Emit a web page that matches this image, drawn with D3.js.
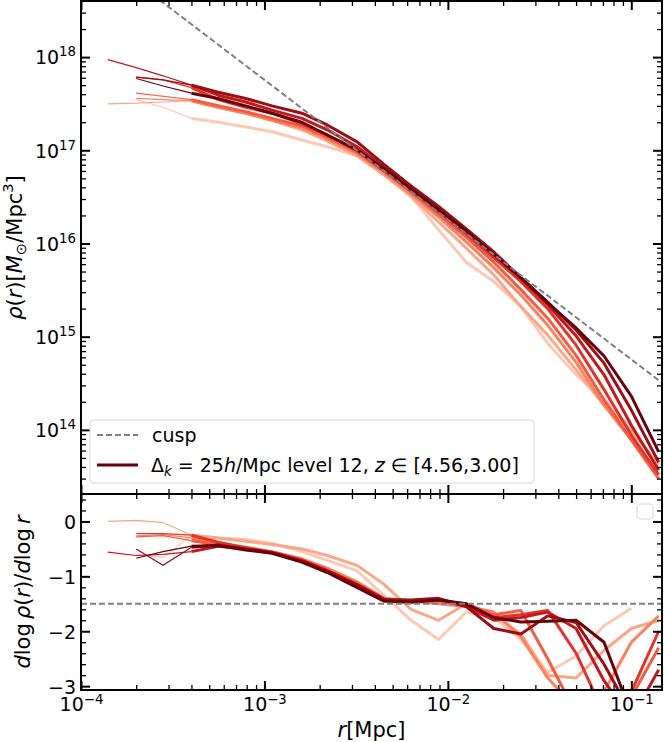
<!DOCTYPE html>
<html>
<head>
<meta charset="utf-8">
<script src="https://cdn.jsdelivr.net/npm/d3@7"></script>
<style>
  body { margin: 0; background: #fff; }
  svg { font-family: "DejaVu Sans", sans-serif; }
</style>
</head>
<body>
<svg id="chart" width="664" height="742"></svg>
<script>
// radial bins [Mpc]
var radii = [1.4e-4, 2.0e-4, 2.8e-4, 4.0e-4, 5.6e-4, 7.9e-4, 1.1e-3, 1.6e-3, 2.2e-3, 3.2e-3, 4.5e-3,
             6.3e-3, 8.9e-3, 1.26e-2, 1.78e-2, 2.5e-2, 3.5e-2, 5.0e-2, 7.1e-2, 0.1, 0.141];
var rResolved = 4.0e-4;   // inside this the profiles are drawn thin

// density profiles rho(r) [Msun/Mpc^3], z = 4.56 (rho0) ... z = 3.00 (rho7)
var rho0 = [null, 3.5e17, 2.9e17, 2.2e17, 2.0e17, 1.78e17, 1.58e17, 1.29e17, 1.09e17, 8.7e16, 6.6e16, 3.2e16, 1.4e16, 6.3e15, 3.9e15, 2.1e15, 8.5e14, 3.9e14, 2.1e14, 1.04e14, null];
var rho1 = [3.15e17, 3.2e17, 3.3e17, 3.4e17, 2.9e17, 2.5e17, 2.1e17, 1.66e17, 1.26e17, 8.7e16, 5.4e16, 3.2e16, 1.7e16, 8.9e15, 4.6e15, 2.1e15, 1.04e15, 4.4e14, 1.84e14, 9.9e13, 4.2e13];
var rho2 = [null, 3.6e17, 3.5e17, 3.4e17, 2.9e17, 2.5e17, 2.1e17, 1.74e17, 1.33e17, 9.2e16, 5.7e16, 3.4e16, 1.93e16, 1.04e16, 5.5e15, 2.8e15, 1.33e15, 5.3e14, 1.84e14, 7.8e13, 3.3e13];
var rho3 = [null, 4.1e17, 3.8e17, 3.5e17, 3.0e17, 2.6e17, 2.2e17, 1.83e17, 1.39e17, 9.6e16, 6.0e16, 3.6e16, 2.07e16, 1.17e16, 6.3e15, 3.2e15, 1.58e15, 6.3e14, 2.1e14, 7.8e13, 3.0e13];
var rho4 = [null, 6.1e17, 5.7e17, 4.7e17, 3.5e17, 2.9e17, 2.5e17, 1.92e17, 1.46e17, 9.9e16, 6.0e16, 3.65e16, 2.2e16, 1.26e16, 7.0e15, 3.9e15, 2.0e15, 8.1e14, 2.7e14, 8.8e13, 3.3e13];
var rho5 = [9.4e17, 7.7e17, 6.3e17, 5.0e17, 3.9e17, 3.3e17, 2.7e17, 2.2e17, 1.66e17, 1.09e17, 6.5e16, 3.85e16, 2.3e16, 1.36e16, 7.5e15, 4.2e15, 2.2e15, 1.02e15, 3.9e14, 1.12e14, 3.7e13];
var rho6 = [null, 6.1e17, 5.7e17, 5.0e17, 4.2e17, 3.6e17, 3.0e17, 2.5e17, 1.87e17, 1.23e17, 7.0e16, 4.15e16, 2.5e16, 1.43e16, 8.1e15, 4.3e15, 2.35e15, 1.18e15, 5.2e14, 1.63e14, 4.5e13];
var rho7 = [null, 5.9e17, 4.9e17, 4.1e17, 3.6e17, 3.0e17, 2.5e17, 2.0e17, 1.46e17, 1.01e17, 6.3e16, 3.85e16, 2.3e16, 1.36e16, 7.7e15, 4.3e15, 2.3e15, 1.24e15, 6.2e14, 2.3e14, 5.8e13];

// logarithmic slopes dlog rho / dlog r
var slope0 = [null, -0.6, -0.66, -0.25, -0.3, -0.33, -0.4, -0.55, -0.71, -0.9, -1.35, -1.8, -2.15, -1.65, -1.75, -2.15, -2.75, -2.45, -1.9, -1.58, null];
var slope1 = [0.0, 0.02, -0.02, -0.25, -0.3, -0.36, -0.42, -0.5, -0.62, -0.8, -1.15, -1.6, -1.8, -1.5, -1.7, -2.05, -2.8, -2.85, -2.35, -1.95, -1.8];
var slope2 = [null, -0.26, -0.24, -0.3, -0.4, -0.47, -0.55, -0.68, -0.85, -1.1, -1.4, -1.45, -1.5, -1.55, -1.65, -2.1, -2.85, -3.4, -3.1, -2.2, -1.72];
var slope3 = [null, -0.28, -0.26, -0.35, -0.42, -0.5, -0.56, -0.7, -0.88, -1.13, -1.42, -1.45, -1.45, -1.5, -1.7, -1.62, -2.5, -3.5, -3.6, -3.2, -2.3];
var slope4 = [null, -0.22, -0.22, -0.25, -0.38, -0.48, -0.56, -0.7, -0.9, -1.15, -1.42, -1.45, -1.42, -1.52, -1.75, -1.7, -1.62, -2.4, -3.5, -3.1, -2.0];
var slope5 = [-0.56, -0.62, -0.6, -0.55, -0.45, -0.5, -0.57, -0.73, -0.92, -1.2, -1.45, -1.45, -1.42, -1.55, -1.8, -1.75, -1.65, -1.95, -2.9, -3.6, -2.7];
var slope6 = [null, -0.5, -0.8, -0.47, -0.43, -0.5, -0.57, -0.72, -0.9, -1.15, -1.42, -1.43, -1.4, -1.55, -1.95, -2.05, -1.72, -1.84, -2.6, -3.5, -3.3];
var slope7 = [null, -0.67, -0.55, -0.45, -0.44, -0.52, -0.58, -0.74, -0.93, -1.2, -1.45, -1.47, -1.43, -1.5, -1.75, -1.83, -1.82, -1.8, -2.2, -3.5, -4.2];

// rho ~ r^-1.5 cusp
var cuspR = [1e-4, 0.147];
var cuspRho = [1.8e19, 3.2e14];
var cuspSlope = -1.5;

var xTicks = [1e-4, 1e-3, 1e-2, 1e-1];
var rhoTicks = [1e14, 1e15, 1e16, 1e17, 1e18];
var slopeTicks = [0, -1, -2, -3];

var rhoSeries = [rho0, rho1, rho2, rho3, rho4, rho5, rho6, rho7];
var slopeSeries = [slope0, slope1, slope2, slope3, slope4, slope5, slope6, slope7];

var padL = 81, padR = 662, padT = 1, padM = 494, padB = 690;

var svg = d3.select("#chart");
var x = d3.scaleLog().domain([1e-4, 0.147]).range([padL, padR]);
var yTop = d3.scaleLog().domain([2.05e13, 4.0e18]).range([padM, padT]);
var yBot = d3.scaleLinear().domain([-3.07, 0.5]).range([padB, padM]);
var color = function(i) { return d3.interpolateReds(0.2 + 0.8 * i / 7); };

var defs = svg.append("defs");
defs.append("clipPath").attr("id", "clipTop").append("rect")
    .attr("x", padL).attr("y", padT).attr("width", padR - padL).attr("height", padM - padT);
defs.append("clipPath").attr("id", "clipBot").append("rect")
    .attr("x", padL).attr("y", padM).attr("width", padR - padL).attr("height", padB - padM);

function drawProfiles(g, series, y) {
  var line = d3.line()
      .defined(function(d) { return d.v != null; })
      .x(function(d) { return x(d.r); })
      .y(function(d) { return y(d.v); });
  series.forEach(function(vals, i) {
    var pts = radii.map(function(r, j) { return {r: r, v: vals[j]}; });
    g.append("path")
      .datum(pts.filter(function(p) { return p.r <= rResolved; }))
      .attr("d", line).attr("fill", "none")
      .attr("stroke", color(i)).attr("stroke-width", 1.2);
    g.append("path")
      .datum(pts.filter(function(p) { return p.r >= rResolved; }))
      .attr("d", line).attr("fill", "none")
      .attr("stroke", color(i)).attr("stroke-width", 3)
      .attr("stroke-linejoin", "round");
  });
}

// top panel
var gTop = svg.append("g").attr("clip-path", "url(#clipTop)");
drawProfiles(gTop, rhoSeries, yTop);
gTop.append("path")
  .datum(cuspR.map(function(r, j) { return [r, cuspRho[j]]; }))
  .attr("d", d3.line().x(function(d) { return x(d[0]); }).y(function(d) { return yTop(d[1]); }))
  .attr("fill", "none").attr("stroke", "#808080").attr("stroke-width", 2)
  .attr("stroke-dasharray", "6,3");

// bottom panel
var gBot = svg.append("g").attr("clip-path", "url(#clipBot)");
drawProfiles(gBot, slopeSeries, yBot);
gBot.append("line")
  .attr("x1", padL).attr("x2", padR)
  .attr("y1", yBot(cuspSlope)).attr("y2", yBot(cuspSlope))
  .attr("stroke", "#808080").attr("stroke-width", 2).attr("stroke-dasharray", "6,3");

// ticks
function minorLog(scale) {
  var d = scale.domain();
  return scale.ticks().filter(function(t) {
    var m = t / Math.pow(10, Math.floor(Math.log10(t) + 1e-9));
    return Math.abs(m - 1) > 1e-6 && t > d[0] && t < d[1];
  });
}
var xMinor = minorLog(x);
var rhoMinor = minorLog(yTop);
var slopeMinor = d3.range(-28, 5, 2).map(function(v) { return v / 10; })
  .filter(function(v) { return Math.abs(v - Math.round(v)) > 1e-6; });

function styleAxis(g) {
  g.select(".domain").remove();
  g.attr("font-family", "DejaVu Sans, sans-serif").attr("font-size", 19);
  g.selectAll(".tick text").attr("fill", "#000");
  g.selectAll(".tick line").attr("stroke", "#000");
}
function powerLabels(g, supDy) {
  g.selectAll(".tick text").each(function(d) {
    var t = d3.select(this), e = Math.round(Math.log10(d));
    t.text(null);
    t.append("tspan").text("10");
    t.append("tspan").attr("font-size", "0.7em").attr("dy", supDy)
      .text((e < 0 ? "\u2212" : "") + Math.abs(e));
  });
}
function tickSet(axisFn, scale, major, minor, pos, labelled, pad) {
  var gM = svg.append("g").attr("transform", pos)
    .call(axisFn(scale).tickValues(major).tickSize(-9).tickPadding(pad || 5)
      .tickFormat(labelled ? null : ""));
  styleAxis(gM);
  gM.selectAll(".tick line").attr("stroke-width", 2);
  var gm = svg.append("g").attr("transform", pos)
    .call(axisFn(scale).tickValues(minor).tickSize(-5).tickFormat(""));
  styleAxis(gm);
  gm.selectAll(".tick line").attr("stroke-width", 1.3);
  return gM;
}

// top panel axes
var yl = tickSet(d3.axisLeft, yTop, rhoTicks, rhoMinor, "translate(" + padL + ",0)", true, 5);
powerLabels(yl, -8);
yl.selectAll(".tick text").attr("dy", "0.36em");
tickSet(d3.axisRight, yTop, rhoTicks, rhoMinor, "translate(" + padR + ",0)", false);
tickSet(d3.axisTop, x, xTicks, xMinor, "translate(0," + padT + ")", false);
tickSet(d3.axisBottom, x, xTicks, xMinor, "translate(0," + padM + ")", false);

// bottom panel axes
var bl = tickSet(d3.axisLeft, yBot, slopeTicks, slopeMinor, "translate(" + padL + ",0)", true, 5);
bl.selectAll(".tick text").text(function(d) { return d3.format("d")(d); }).attr("dy", "0.36em");
tickSet(d3.axisRight, yBot, slopeTicks, slopeMinor, "translate(" + padR + ",0)", false);
tickSet(d3.axisTop, x, xTicks, xMinor, "translate(0," + padM + ")", false);
var xb = tickSet(d3.axisBottom, x, xTicks, xMinor, "translate(0," + padB + ")", true, 8);
powerLabels(xb, -7);

// frames
[[padT, padM], [padM, padB]].forEach(function(p) {
  svg.append("rect").attr("x", padL).attr("y", p[0])
    .attr("width", padR - padL).attr("height", p[1] - p[0])
    .attr("fill", "none").attr("stroke", "#000").attr("stroke-width", 2);
});

// axis labels
var lab1 = svg.append("text").attr("transform", "translate(22," + ((padT + padM) / 2) + ") rotate(-90)")
  .attr("text-anchor", "middle").attr("font-size", 21);
lab1.append("tspan").attr("font-style", "italic").text("\u03c1");
lab1.append("tspan").text("(");
lab1.append("tspan").attr("font-style", "italic").text("r");
lab1.append("tspan").text(")[");
lab1.append("tspan").attr("font-style", "italic").text("M");
lab1.append("tspan").attr("font-size", "0.7em").attr("dy", 4).text("\u2299");
lab1.append("tspan").attr("dy", -4).text("/Mpc");
lab1.append("tspan").attr("font-size", "0.7em").attr("dy", -9).text("3");
lab1.append("tspan").attr("dy", 9).text("]");

var lab2 = svg.append("text").attr("transform", "translate(30," + ((padM + padB) / 2) + ") rotate(-90)")
  .attr("text-anchor", "middle").attr("font-size", 21);
lab2.append("tspan").attr("font-style", "italic").text("d");
lab2.append("tspan").text("log\u2009");
lab2.append("tspan").attr("font-style", "italic").text("\u03c1");
lab2.append("tspan").text("(");
lab2.append("tspan").attr("font-style", "italic").text("r");
lab2.append("tspan").text(")/");
lab2.append("tspan").attr("font-style", "italic").text("d");
lab2.append("tspan").text("log\u2009");
lab2.append("tspan").attr("font-style", "italic").text("r");

var lab3 = svg.append("text").attr("x", (padL + padR) / 2).attr("y", 737)
  .attr("text-anchor", "middle").attr("font-size", 21);
lab3.append("tspan").attr("font-style", "italic").text("r");
lab3.append("tspan").text("[Mpc]");

// legend
var leg = svg.append("g");
leg.append("rect").attr("x", 90).attr("y", 420).attr("width", 444).attr("height", 63)
  .attr("rx", 4).attr("fill", "#fff").attr("fill-opacity", 0.8)
  .attr("stroke", "#d6d6d6").attr("stroke-width", 1);
leg.append("line").attr("x1", 97).attr("x2", 138).attr("y1", 435).attr("y2", 435)
  .attr("stroke", "#808080").attr("stroke-width", 2).attr("stroke-dasharray", "6,3");
leg.append("text").attr("x", 152).attr("y", 442).attr("font-size", 19).text("cusp");
leg.append("line").attr("x1", 97).attr("x2", 138).attr("y1", 465).attr("y2", 465)
  .attr("stroke", color(7)).attr("stroke-width", 3);
var lt = leg.append("text").attr("x", 151).attr("y", 472).attr("font-size", 19);
lt.append("tspan").text("\u0394");
lt.append("tspan").attr("font-style", "italic").attr("font-size", "0.7em").attr("dy", 4).text("k");
lt.append("tspan").attr("dy", -4).text(" = 25");
lt.append("tspan").attr("font-style", "italic").text("h");
lt.append("tspan").text("/Mpc level 12, ");
lt.append("tspan").attr("font-style", "italic").text("z");
lt.append("tspan").text(" \u2208 [4.56,3.00]");

// empty legend of the lower panel
svg.append("rect").attr("x", 637).attr("y", 504).attr("width", 16).attr("height", 15)
  .attr("rx", 3).attr("fill", "#fff").attr("stroke", "#d6d6d6");
</script>
</body>
</html>
